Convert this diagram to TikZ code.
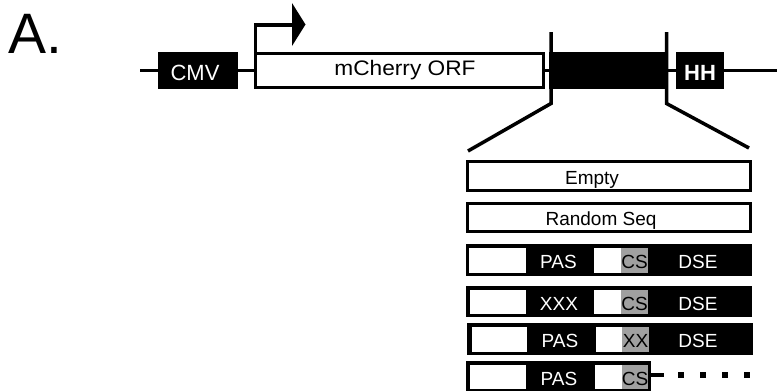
\documentclass[tikz,border=0pt]{standalone}
\usepackage{fontspec}
\setmainfont{Liberation Sans}
\definecolor{csgray}{RGB}{160,160,160}
\begin{document}
\begin{tikzpicture}[x=1pt,y=-1pt,
  box/.style={rectangle,draw=black,line width=3pt,inner sep=0pt,outer sep=0pt},
  wbox/.style={box,fill=white},
  bbox/.style={box,fill=black},
  conn/.style={line width=3.5pt},
  lbl/.style={inner sep=0pt,outer sep=0pt,anchor=base,font=\fontsize{19}{19}\selectfont},
  wlbl/.style={lbl,text=white}]
\useasboundingbox (0,0) rectangle (777,391);
\clip (0,0) rectangle (777,391);
% panel letter
\node[inner sep=0pt,anchor=base west,font=\fontsize{57}{57}\selectfont] (panel) at (8,53) {A.};
% top construct
\node[bbox,minimum width=77pt,minimum height=34pt] (cmv) at (198,70.5) {};
\node[wlbl,font=\fontsize{22}{22}\selectfont] (cmvt) at (195,80) {CMV};
\node[wbox,minimum width=288pt,minimum height=34pt] (orf) at (399.5,70.5) {};
\node[lbl,font=\fontsize{21}{21}\selectfont] (orft) at (405,75) {\scalebox{1.08}[1]{mCherry ORF}};
\node[bbox,minimum width=115pt,minimum height=34pt] (ins) at (608,70.5) {};
\node[bbox,minimum width=45pt,minimum height=34pt] (hh) at (700,70.5) {};
\node[wlbl,font=\bfseries\fontsize{22}{22}\selectfont] (hht) at (700,80) {HH};
\coordinate (lstart) at (140,70.5);
\coordinate (lend) at (777,70.5);
\draw[conn] (lstart) -- (cmv.west);
\draw[conn] (cmv.east) -- (orf.west);
\draw[conn] (orf.east) -- (ins.west);
\draw[conn] (ins.east) -- (hh.west);
\draw[conn] (hh.east) -- (lend);
% promoter arrow
\coordinate (pa) at (255.5,53);
\coordinate (pb) at (255.5,25);
\coordinate (pc) at (293,25);
\draw[conn] (pa) -- (pb) -- (pc);
\fill (292,3) -- (305.5,24.5) -- (292,46) -- cycle;
% expansion brackets
\coordinate (bl1) at (551,32);
\coordinate (bl2) at (551,103.5);
\coordinate (bl3) at (468,151);
\coordinate (br1) at (666.5,32);
\coordinate (br2) at (666.5,103.5);
\coordinate (br3) at (749,148);
\draw[conn,line join=miter] (bl1) -- (bl2) -- (bl3);
\draw[conn,line join=miter] (br1) -- (br2) -- (br3);
% variants
\node[wbox,minimum width=283pt,minimum height=29pt] (empty) at (609,176) {};
\node[lbl] (emptyt) at (592,184) {Empty};
\node[wbox,minimum width=283pt,minimum height=28pt] (rand) at (609,217.5) {};
\node[lbl] (randt) at (601,225) {Random Seq};
% row 3
\node[bbox,minimum width=283pt,minimum height=29pt] (r3) at (609,260) {};
\fill[white] (469,248) rectangle (526,272.5);
\fill[white] (594,248) rectangle (621,272.5);
\fill[csgray] (621,248) rectangle (648,272.5);
\node[wlbl] (r3a) at (558.5,268) {PAS};
\node[lbl] (r3b) at (634.5,268) {CS};
\node[wlbl] (r3c) at (698,268) {DSE};
% row 4
\node[bbox,minimum width=283pt,minimum height=28pt] (r4) at (609,301.5) {};
\fill[white] (470,290) rectangle (526,314);
\fill[white] (594,290) rectangle (621,314);
\fill[csgray] (621,290) rectangle (648,314);
\node[wlbl] (r4a) at (559,310) {XXX};
\node[lbl] (r4b) at (634.5,310) {CS};
\node[wlbl] (r4c) at (698,310) {DSE};
% row 5
\node[bbox,minimum width=283pt,minimum height=29pt] (r5) at (610,339) {};
\fill[white] (472,327) rectangle (527,351.5);
\fill[white] (596,327) rectangle (622,351.5);
\fill[csgray] (622,327) rectangle (649,351.5);
\node[wlbl] (r5a) at (560,347) {PAS};
\node[lbl] (r5b) at (635.5,347) {XX};
\node[wlbl] (r5c) at (698,347) {DSE};
% row 6
\node[bbox,minimum width=182pt,minimum height=29pt] (r6) at (558.5,377) {};
\fill[white] (470,365) rectangle (526,389);
\fill[white] (595,365) rectangle (622,389);
\fill[csgray] (622,365) rectangle (648,389);
\node[wlbl] (r6a) at (559,385) {PAS};
\node[lbl] (r6b) at (635,385) {CS};
\coordinate (stub) at (664,375);
\draw[line width=4.5pt] (r6.east |- stub) -- (stub);
\draw[line width=6pt,dash pattern=on 6pt off 16pt] (678,375) -- (752,375);
\end{tikzpicture}
\end{document}
